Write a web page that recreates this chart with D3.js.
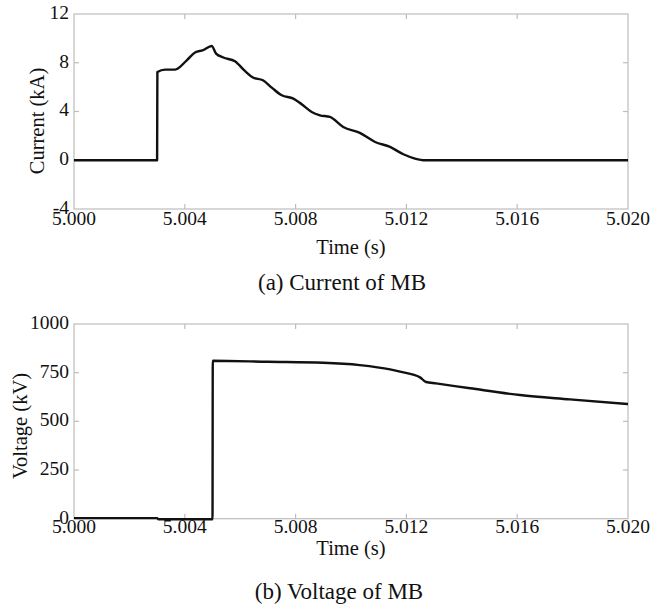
<!DOCTYPE html>
<html>
<head>
<meta charset="utf-8">
<script src="https://cdn.jsdelivr.net/npm/d3@7"></script>
<style>
  body { margin: 0; background: #fff; }
  svg text { font-family: "Liberation Serif", "DejaVu Serif", serif; }
</style>
</head>
<body>
<div id="chart"></div>
<script>
// (a) current of MB, kA
const currentT = [5.000, 5.00300, 5.00301, 5.00329, 5.00365, 5.00407, 5.00437, 5.00466, 5.00497,
  5.00513, 5.00539, 5.00581, 5.00617, 5.00646, 5.00682, 5.00714, 5.00750, 5.00792, 5.00822,
  5.00858, 5.00888, 5.00924, 5.00972, 5.01032, 5.01087, 5.01141, 5.01189, 5.01231, 5.01267, 5.020];
const currentV = [0, 0, 7.24, 7.44, 7.44, 8.2, 8.84, 9.03, 9.38,
  8.75, 8.43, 8.12, 7.33, 6.79, 6.56, 5.96, 5.33, 5.06, 4.59,
  3.96, 3.69, 3.55, 2.73, 2.24, 1.50, 1.09, 0.49, 0.14, 0, 0];

// (b) voltage of MB, kV
const voltageT = [5.000, 5.00300, 5.00304, 5.00500, 5.00501, 5.00700, 5.00900, 5.01032, 5.01141,
  5.01177, 5.01249, 5.01271, 5.01307, 5.01430, 5.01610, 5.01790, 5.020];
const voltageV = [3, 3, -3, -3, 811, 806, 801, 789, 767,
  755, 726, 702, 695, 670, 635, 613, 589];

const xTicks = [5.000, 5.004, 5.008, 5.012, 5.016, 5.020];
const currentTicks = [-4, 0, 4, 8, 12];
const voltageTicks = [0, 250, 500, 750, 1000];

const width = 652;
const height = 608;
const left = 74, right = 628;

const svg = d3.select("#chart").append("svg")
  .attr("width", width)
  .attr("height", height);

const x = d3.scaleLinear().domain([5.000, 5.020]).range([left, right]);

const drawPanel = (opts) => {
  const y = d3.scaleLinear().domain(opts.yDomain).range([opts.bottom, opts.top]);
  const g = svg.append("g");

  // frame
  g.append("rect")
    .attr("x", left).attr("y", opts.top)
    .attr("width", right - left).attr("height", opts.bottom - opts.top)
    .style("fill", "none").style("stroke", "#bdbdbd").style("stroke-width", 1.2);

  // inner ticks
  const tickLen = 5;
  const tk = g.append("g").style("stroke", "#bdbdbd").style("stroke-width", 1.2);
  xTicks.slice(1, -1).forEach((t) => {
    tk.append("line").attr("x1", x(t)).attr("x2", x(t)).attr("y1", opts.bottom).attr("y2", opts.bottom - tickLen);
    tk.append("line").attr("x1", x(t)).attr("x2", x(t)).attr("y1", opts.top).attr("y2", opts.top + tickLen);
  });
  opts.yTicks.slice(1, -1).forEach((v) => {
    tk.append("line").attr("y1", y(v)).attr("y2", y(v)).attr("x1", left).attr("x2", left + tickLen);
    tk.append("line").attr("y1", y(v)).attr("y2", y(v)).attr("x1", right).attr("x2", right - tickLen);
  });

  // tick labels
  g.append("g").selectAll("text").data(xTicks).enter().append("text")
    .attr("x", (d) => x(d))
    .attr("y", opts.bottom + opts.xLabelOffset)
    .attr("text-anchor", "middle")
    .style("font-size", "19.5px")
    .style("fill", "#111")
    .text(d3.format(".3f"));

  g.append("g").selectAll("text").data(opts.yTicks).enter().append("text")
    .attr("x", left - 5)
    .attr("y", (d) => y(d) - 2)
    .attr("dy", "0.35em")
    .attr("text-anchor", "end")
    .style("font-size", "19.5px")
    .style("fill", "#111")
    .text((d) => d);

  // series
  const line = d3.line().x((d) => x(d[0])).y((d) => y(d[1])).curve(d3.curveMonotoneX);
  g.append("path")
    .datum(d3.zip(opts.t, opts.v))
    .attr("d", line)
    .style("fill", "none")
    .style("stroke", "#111")
    .style("stroke-width", 2.4)
    .style("stroke-linejoin", "round");

  // titles
  g.append("text")
    .attr("x", (left + right) / 2)
    .attr("y", opts.timeY)
    .attr("text-anchor", "middle")
    .style("font-size", "20.5px")
    .style("fill", "#111")
    .text("Time (s)");

  g.append("text")
    .attr("transform", `translate(${opts.yTitleX}, ${opts.yTitleY}) rotate(-90)`)
    .attr("text-anchor", "middle")
    .style("font-size", "20.5px")
    .style("fill", "#111")
    .text(opts.yTitle);

  g.append("text")
    .attr("x", opts.captionX)
    .attr("y", opts.captionY)
    .attr("text-anchor", "middle")
    .style("font-size", "23px")
    .style("fill", "#111")
    .text(opts.caption);
};

drawPanel({
  top: 14, bottom: 209, yDomain: [-4, 12], yTicks: currentTicks,
  t: currentT, v: currentV, xLabelOffset: 16, timeY: 254, captionY: 290, captionX: 342,
  yTitle: "Current (kA)", yTitleX: 44, yTitleY: 121, caption: "(a) Current of MB"
});

drawPanel({
  top: 324, bottom: 518.7, yDomain: [0, 1000], yTicks: voltageTicks,
  t: voltageT, v: voltageV, xLabelOffset: 14.5, timeY: 555, captionY: 599, captionX: 339,
  yTitle: "Voltage (kV)", yTitleX: 27, yTitleY: 426, caption: "(b) Voltage of MB"
});
</script>
</body>
</html>
